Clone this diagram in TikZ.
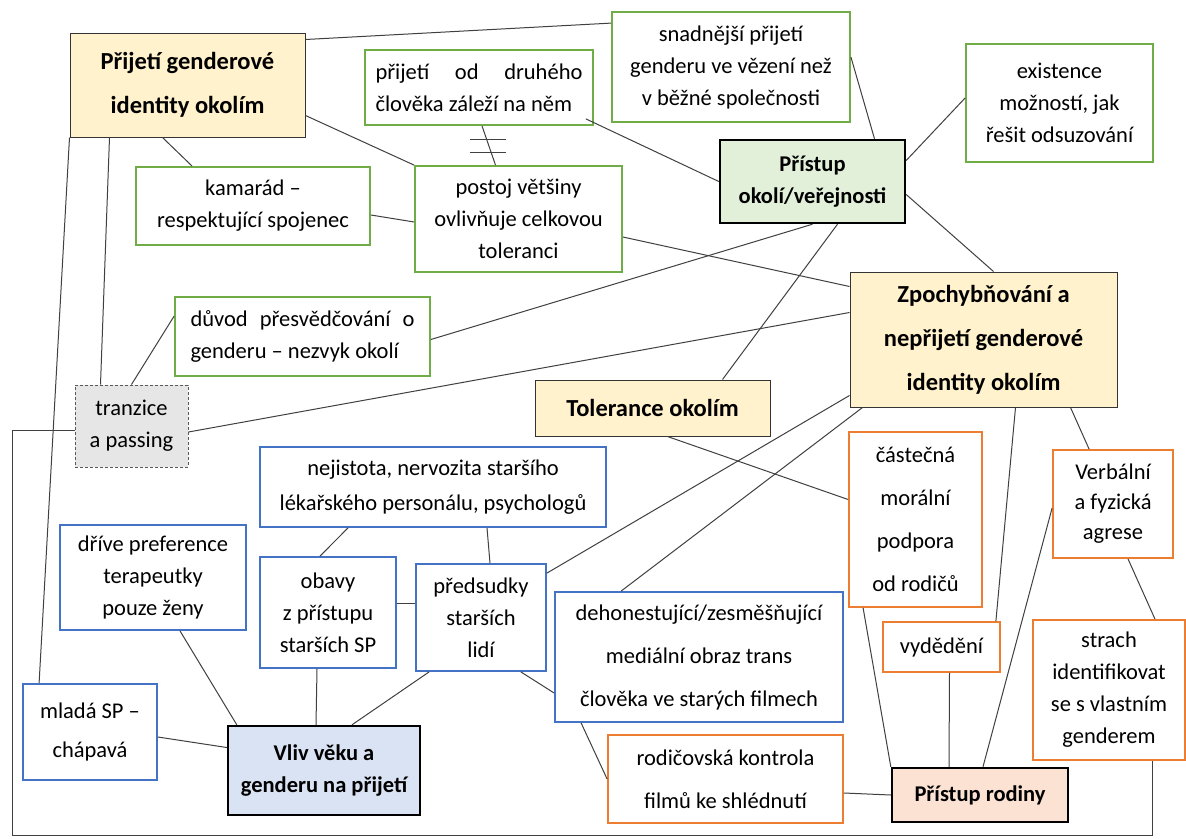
\documentclass[tikz,border=0pt]{standalone}
\usepackage{fontspec}
\setmainfont{Carlito}
\usetikzlibrary{calc,positioning}
\definecolor{kgreen}{HTML}{70AD47}
\definecolor{kblue}{HTML}{4472C4}
\definecolor{korange}{HTML}{ED7D31}
\definecolor{kyellowfill}{HTML}{FFF2CC}
\definecolor{kgreenfill}{HTML}{E2F0D9}
\definecolor{kbluefill}{HTML}{DAE3F3}
\definecolor{korangefill}{HTML}{FBE2D2}
\definecolor{kgreyfill}{HTML}{E7E6E6}
\newcommand\normtxt{\fontsize{22.5}{32}\selectfont}
\newcommand\widetxt{\fontsize{22.5}{43}\selectfont}
\newcommand\headtxt{\fontsize{24.5}{44}\selectfont\bfseries}

\begin{document}
\begin{tikzpicture}[x=1pt, y=-1pt,
  box/.style={draw, align=center, inner sep=2pt, font=\normtxt},
  gbox/.style={box, draw=kgreen, line width=1.8pt},
  bbox/.style={box, draw=kblue, line width=1.8pt},
  obox/.style={box, draw=korange, line width=1.8pt},
  hbox/.style={box, fill=kyellowfill, draw=black!80, line width=1pt, font=\headtxt},
  mainbox/.style={box, draw=black, line width=2.4pt, font=\normtxt\bfseries},
  wide/.style={font=\widetxt},
  link/.style={draw=black!75, line width=1pt}]
\useasboundingbox[fill=white] (0,0) rectangle (1186,838);

\node[hbox, minimum width=235, minimum height=104] (prijeti) at (187.5,85) {Přijetí genderové\\identity okolím};
\node[gbox, minimum width=238, minimum height=110] (snad) at (731,67) {snadnější přijetí\\genderu ve vězení než\\v běžné společnosti};
\node[gbox, minimum width=228, minimum height=75, text width=207, align=flush left] (druheho) at (479,87.5) {přijetí\hfill od\hfill druhého\\člověka záleží na něm};
\node[gbox, minimum width=187, minimum height=118] (exist) at (1059.5,103) {existence\\možností, jak\\řešit odsuzování};
\node[mainbox, fill=kgreenfill, minimum width=185, minimum height=83] (okoli) at (812.5,181.5) {Přístup\\okolí/veřejnosti};
\node[gbox, minimum width=234, minimum height=78] (kamarad) at (253,206) {kamarád –\\respektující spojenec};
\node[gbox, minimum width=207, minimum height=106] (postoj) at (518.5,219) {postoj většiny\\ovlivňuje celkovou\\toleranci};
\node[hbox, minimum width=267, minimum height=135] (zpoch) at (983.5,339.5) {Zpochybňování a\\nepřijetí genderové\\identity okolím};
\node[gbox, minimum width=255, minimum height=79, text width=224, align=flush left] (duvod) at (302.5,336.5) {důvod\hfill přesvědčování\hfill o\\genderu – nezvyk okolí};
\node[box, fill=kgreyfill, draw=black!65, line width=1pt, dash pattern=on 3pt off 2pt, minimum width=113, minimum height=82] (tranz) at (131.5,426) {tranzice\\a passing};
\node[hbox, minimum width=235, minimum height=56] (toler) at (652.5,408) {Tolerance okolím};
\node[bbox, minimum width=346, minimum height=80, font=\fontsize{22.5}{35}\selectfont] (nejist) at (433,487) {nejistota, nervozita staršího\\lékařského personálu, psychologů};
\node[obox, wide, minimum width=133, minimum height=175] (castec) at (915.5,519.5) {částečná\\morální\\podpora\\od rodičů};
\node[obox, minimum width=120, minimum height=108, font=\fontsize{22.5}{30}\selectfont] (verbal) at (1113,504) {Verbální\\a fyzická\\agrese};
\node[bbox, minimum width=186, minimum height=105] (drive) at (153,577.5) {dříve preference\\terapeutky\\pouze ženy};
\node[bbox, minimum width=136, minimum height=111] (obavy) at (328,612.5) {obavy\\z přístupu\\starších SP};
\node[bbox, minimum width=130, minimum height=107] (predsud) at (481,617.5) {předsudky\\starších\\lidí};
\node[bbox, wide, minimum width=288, minimum height=130] (dehon) at (699,657) {dehonestující/zesměšňující\\mediální obraz trans\\člověka ve starých filmech};
\node[obox, minimum width=117, minimum height=50] (vydedeni) at (941.5,647) {vydědění};
\node[obox, minimum width=152, minimum height=140] (strach) at (1109,690) {strach\\identifikovat\\se s vlastním\\genderem};
\node[bbox, minimum width=134, minimum height=96, font=\fontsize{22.5}{39}\selectfont] (mlada) at (90,732) {mladá SP –\\chápavá};
\node[mainbox, fill=kbluefill, minimum width=192, minimum height=89] (vliv) at (324,770.5) {Vliv věku a\\genderu na přijetí};
\node[obox, wide, minimum width=235, minimum height=88] (rodic) at (725.5,779) {rodičovská kontrola\\filmů ke shlédnutí};
\node[mainbox, fill=korangefill, minimum width=176, minimum height=54] (rodina) at (980,795) {Přístup rodiny};

\coordinate (roh) at (12,835);

\draw[link] ([yshift=-7pt]prijeti.north east) -- ([yshift=-12pt]snad.north west);
\draw[link] ([yshift=22pt]prijeti.south east) -- (postoj.north west);
\draw[link] ([xshift=-25pt]prijeti.south) -- ([xshift=57pt]kamarad.north west);
\draw[link] (prijeti.south west) -- ([xshift=17pt]mlada.north west);
\draw[link] ([xshift=40pt]prijeti.south west) -- ([xshift=26pt]tranz.north west);
\draw[link] ([yshift=-9pt]kamarad.east) -- ([yshift=-3pt]postoj.west);
\draw[link] ([xshift=3pt]druheho.south) -- coordinate[midway] (nerovno) ([xshift=-23pt]postoj.north);
\draw[link] ([shift={(-19,-6)}]nerovno) -- ++(36,0);
\draw[link] ([shift={(-19,7)}]nerovno) -- ++(36,0);
\draw[link] ([xshift=-8pt,yshift=7pt]druheho.south east) -- (okoli.west);
\draw[link] ([yshift=10pt]snad.east) -- ([xshift=62pt]okoli.north);
\draw[link] ([yshift=21pt]okoli.east) -- ([yshift=5pt]exist.west);
\draw[link] ([yshift=-13pt]okoli.east) -- ([xshift=10pt]zpoch.north);
\draw[link] (okoli.south) -- ([yshift=-3pt]duvod.east);
\draw[link] ([xshift=25pt]okoli.south) -- ([xshift=70pt]toler.north);
\draw[link] ([yshift=-18pt]postoj.east) -- ([yshift=-15pt]zpoch.north west);
\draw[link] ([yshift=-6pt]tranz.east) -- ([yshift=-41pt]zpoch.north west);
\draw[link] (tranz.north) -- ([yshift=-20pt]duvod.north west);
\draw[link] ([yshift=-4pt]tranz.west) -| (roh) -| ([xshift=43pt]strach.south);
\draw[link] ([xshift=15pt]toler.south) -- ([yshift=20pt]castec.west);
\draw[link] ([yshift=12pt]zpoch.south west) -- ([yshift=-10pt]predsud.north east);
\draw[link] ([xshift=13pt]zpoch.south west) -- ([xshift=67pt]dehon.north west);
\draw[link] ([xshift=32pt]zpoch.south) -- ([xshift=-5pt]vydedeni.north east);
\draw[link] ([xshift=-47pt]zpoch.south east) -- ([xshift=37pt]verbal.north west);
\draw[link] ([yshift=-4pt]verbal.west) -- ([xshift=3pt]rodina.north);
\draw[link] ([xshift=15pt]verbal.south) -- ([xshift=46pt]strach.north);
\draw[link] ([xshift=15pt]castec.south west) -- (rodina.north west);
\draw[link] ([xshift=8pt]vydedeni.south) -- ([xshift=-31pt]rodina.north);
\draw[link] ([yshift=-14pt]rodic.east) -- (rodina.west);
\draw[link] ([xshift=27pt]dehon.south west) -- (rodic.west);
\draw[link] ([xshift=-26pt]predsud.south east) -- ([yshift=-36pt]dehon.west);
\draw[link] ([xshift=14pt]predsud.south west) -- ([xshift=28pt]vliv.north);
\draw[link] ([xshift=-11pt]obavy.south) -- ([xshift=-8pt]vliv.north);
\draw[link] ([yshift=9.5pt]obavy.east) -- ([yshift=14.5pt]predsud.west);
\draw[link] ([xshift=54pt]nejist.south) -- ([xshift=9pt]predsud.north);
\draw[link] ([xshift=-85pt]nejist.south) -- ([xshift=-8pt]obavy.north);
\draw[link] ([xshift=27pt]drive.south) -- ([xshift=10pt]vliv.north west);
\draw[link] ([yshift=-5pt]mlada.east) -- ([yshift=23pt]vliv.west);
\end{tikzpicture}
\end{document}
